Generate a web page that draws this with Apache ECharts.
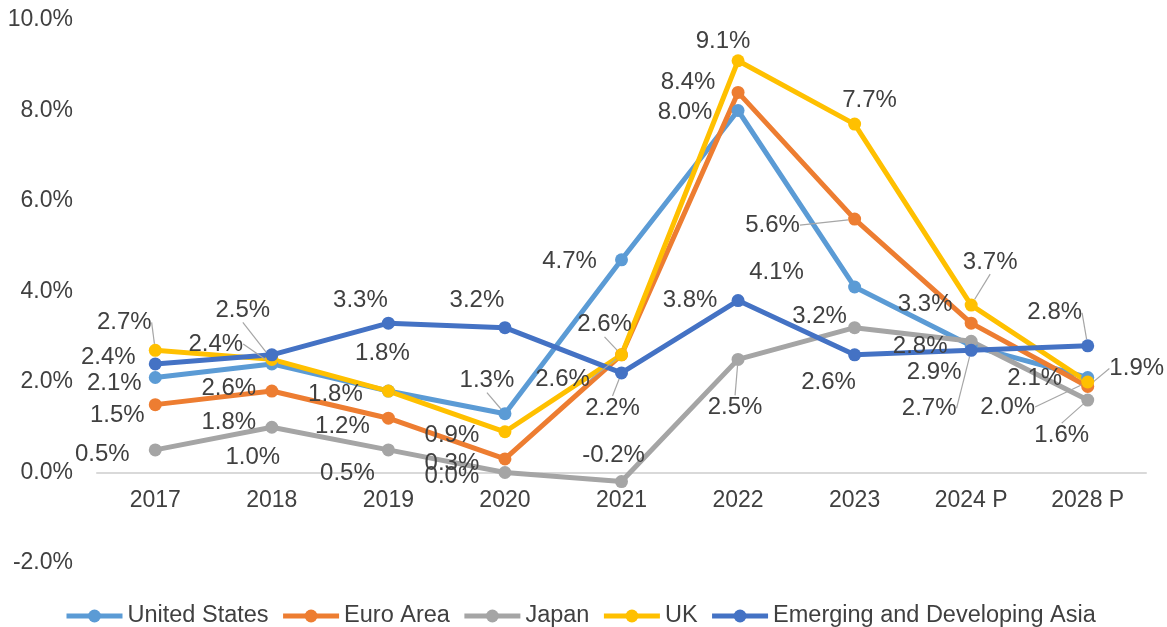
<!DOCTYPE html>
<html>
<head>
<meta charset="utf-8">
<script src="https://cdn.jsdelivr.net/npm/echarts@6/dist/echarts.min.js"></script>
<style>
  html, body { margin: 0; padding: 0; background: #fff; }
  #chart { width: 1167px; height: 627px; }
</style>
</head>
<body>
<div id="chart"></div>
<script>
// values (%)
const categories = ['2017', '2018', '2019', '2020', '2021', '2022', '2023', '2024 P', '2028 P'];
const unitedStates = [2.1, 2.4, 1.8, 1.3, 4.7, 8.0, 4.1, 2.8, 2.1];
const euroArea = [1.5, 1.8, 1.2, 0.3, 2.6, 8.4, 5.6, 3.3, 1.9];
const japan = [0.5, 1.0, 0.5, 0.0, -0.2, 2.5, 3.2, 2.9, 1.6];
const uk = [2.7, 2.5, 1.8, 0.9, 2.6, 9.1, 7.7, 3.7, 2.0];
const asia = [2.4, 2.6, 3.3, 3.2, 2.2, 3.8, 2.6, 2.7, 2.8];
const seriesNames = ['United States', 'Euro Area', 'Japan', 'UK', 'Emerging and Developing Asia'];
const seriesColors = ['#5B9BD5', '#ED7D31', '#A5A5A5', '#FFC000', '#4472C4'];

// label placement (dx, dy from the point, leader line flag) - layout only
const labelOffsets = [
  [[-41, 6], [-56, -20, 1], [-6, -38], [-18, -33, 1], [-52, 2], [-53, 2], [-78, -15], [-51, 1], [-53, 1]],
  [[-38, 11], [-43, 31], [-46, 8], [-53, 4], [-59, 25, 1], [-50, -10], [-82, 6, 1], [-46, -19], [49, -18, 1]],
  [[-53, 4], [-19, 30], [-41, 23], [-53, 4], [-8, -26], [-3, 48, 1], [-35, -11], [-37, 31], [-26, 35, 1]],
  [[-31, -28, 1], [-29, -49, 1], [-53, 3], [-53, 4], [-17, -30, 1], [-15, -19], [15, -24], [19, -43, 1], [-80, 25, 1]],
  [[-47, -7], [-43, 34], [-28, -23], [-28, -27], [-9, 35, 1], [-48, 0], [-26, 28], [-42, 58, 1], [-33, -33, 1]]
];

const values = [unitedStates, euroArea, japan, uk, asia];
const font = 'Liberation Sans, Arial, sans-serif';

const chart = echarts.init(document.getElementById('chart'));

const series = values.map(function (vals, s) {
  return {
    name: seriesNames[s],
    type: 'line',
    data: vals.map(function (v, i) {
      return { value: v, labelLine: { show: !!labelOffsets[s][i][2] } };
    }),
    color: seriesColors[s],
    symbol: 'circle',
    symbolSize: 13,
    lineStyle: { width: 5 },
    label: {
      show: true,
      fontSize: 24,
      fontFamily: font,
      color: '#404040',
      formatter: function (p) { return p.value.toFixed(1) + '%' }
    },
    labelLine: {
      lineStyle: { color: '#A6A6A6', width: 1.2 }
    },
    labelLayout: function (p) {
      const o = labelOffsets[p.seriesIndex][p.dataIndex];
      return {
        x: p.rect.x + p.rect.width / 2 + o[0],
        y: p.rect.y + p.rect.height / 2 + o[1],
        align: 'center',
        verticalAlign: 'middle'
      };
    }
  };
});

const option = {
  animation: false,
  backgroundColor: '#fff',
  grid: { left: 97, right: 21, top: 20, bottom: 64 },
  legend: {
    top: 599,
    left: 59,
    itemWidth: 56,
    itemHeight: 16,
    itemGap: 12,
    lineStyle: { width: 5 },
    textStyle: { fontSize: 23.5, fontFamily: font, color: '#404040' },
    data: seriesNames
  },
  xAxis: {
    type: 'category',
    data: categories,
    boundaryGap: true,
    axisTick: { show: false },
    axisLine: { lineStyle: { color: '#D9D9D9', width: 2 } },
    // labels sit just under the zero line, as in the original
    axisLabel: { fontSize: 23, fontFamily: font, color: '#404040', margin: -74 }
  },
  yAxis: {
    type: 'value',
    min: -2,
    max: 10,
    interval: 2,
    splitLine: { show: false },
    axisLine: { show: false },
    axisTick: { show: false },
    axisLabel: {
      fontSize: 23,
      fontFamily: font,
      color: '#404040',
      margin: 24,
      formatter: function (v) { return v.toFixed(1) + '%' }
    }
  },
  series: series
};

chart.setOption(option);
</script>
</body>
</html>
